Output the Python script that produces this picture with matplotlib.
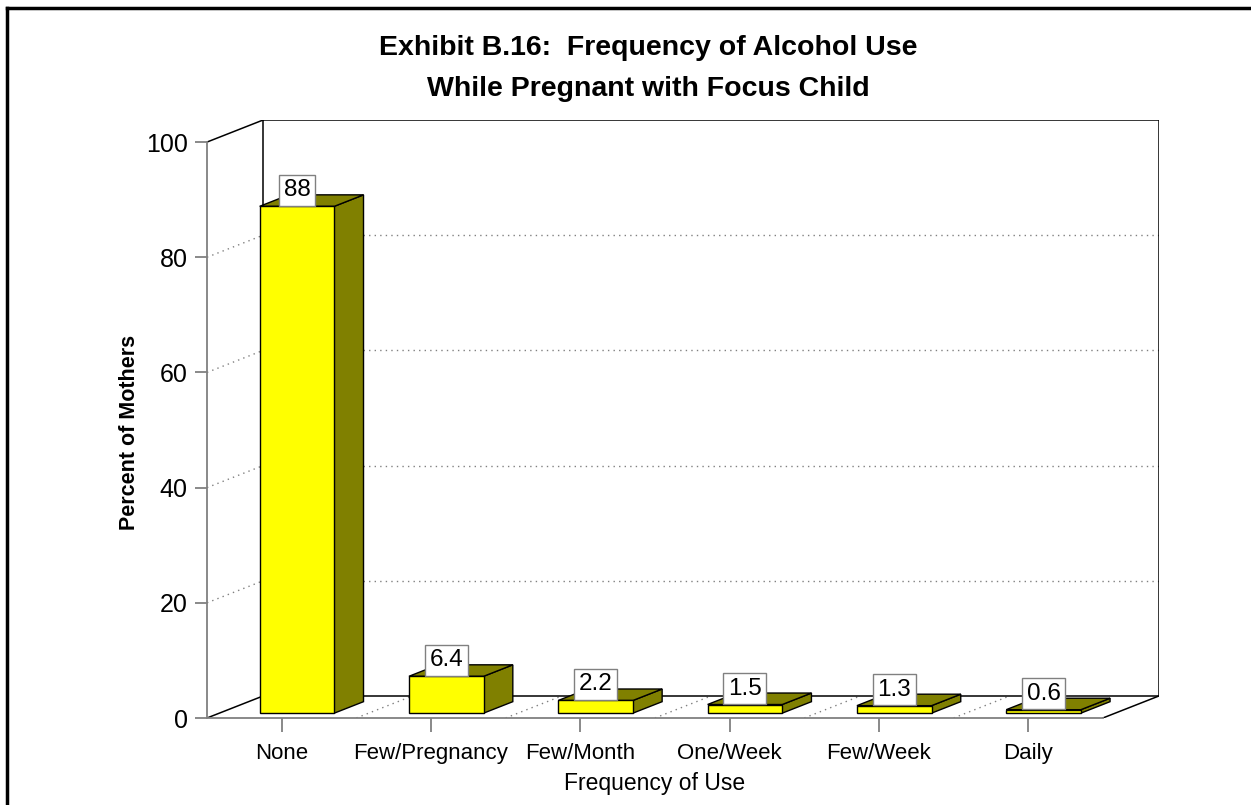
import matplotlib.pyplot as plt
from matplotlib.patches import Polygon
from matplotlib.lines import Line2D

plt.rcParams['font.family'] = ['Liberation Sans', 'DejaVu Sans']

categories = ["None", "Few/Pregnancy", "Few/Month", "One/Week", "Few/Week", "Daily"]
values = [88, 6.4, 2.2, 1.5, 1.3, 0.6]
labels = ["88", "6.4", "2.2", "1.5", "1.3", "0.6"]
yticks = [0, 20, 40, 60, 80, 100]

# pseudo 3d depth (in data units)
DX = 0.376
DY = 3.83
F0, F1 = 0.22, 0.74     # bar front / back depth fraction
BW = 0.5                # bar width
GRAY = "#808080"

fig = plt.figure(figsize=(12.51, 8.05), dpi=100)
ax = fig.add_axes([207 / 1251, 87 / 805, 952 / 1251, 598 / 805])
n = len(categories)
x0, x1 = -0.5, n - 0.5
ax.set_xlim(x0, x1 + DX)
ax.set_ylim(0, 100 + DY)

# back wall + side wall gridlines
for v in yticks[1:-1]:
    ax.plot([x0, x0 + DX], [v, v + DY], color=GRAY, ls=(0, (1, 3)), lw=1, zorder=1)
    ax.plot([x0 + DX, x1 + DX], [v + DY, v + DY], color=GRAY, ls=(0, (1, 3)), lw=1, zorder=1)
# floor gridlines between categories
for i in range(n - 1):
    ax.plot([i + 0.5, i + 0.5 + DX], [0, DY], color=GRAY, ls=(0, (1, 3)), lw=1, zorder=1)

# frame of the box
k = dict(color="black", lw=1.1, zorder=1.5)
ax.plot([x0 + DX, x0 + DX, x1 + DX, x1 + DX, x0 + DX], [DY, 100 + DY, 100 + DY, DY, DY], **k)
ax.plot([x0, x0 + DX], [100, 100 + DY], **k)
ax.plot([x0, x0 + DX], [0, DY], **k)
ax.plot([x1, x1 + DX], [0, DY], **k)

# bars
for i, v in enumerate(values):
    l = i + 0.02 - BW / 2
    r = i + 0.02 + BW / 2
    fx, fy = DX * F0, DY * F0
    bx, by = DX * F1, DY * F1
    front = [(l + fx, fy), (r + fx, fy), (r + fx, v + fy), (l + fx, v + fy)]
    side = [(r + fx, fy), (r + bx, by), (r + bx, v + by), (r + fx, v + fy)]
    top = [(l + fx, v + fy), (r + fx, v + fy), (r + bx, v + by), (l + bx, v + by)]
    ax.add_patch(Polygon(side, closed=True, fc="#808000", ec="black", lw=1, zorder=3))
    ax.add_patch(Polygon(top, closed=True, fc="#808000", ec="black", lw=1, zorder=3))
    ax.add_patch(Polygon(front, closed=True, fc="#FFFF00", ec="black", lw=1, zorder=3))
    ax.annotate(labels[i], xy=(i + 0.02 + fx, v + fy), xytext=(0, 3.6), textcoords="offset points",
                ha="center", va="bottom", fontsize=17.5, zorder=5,
                bbox=dict(boxstyle="square,pad=0.19", fc="white", ec=GRAY, lw=1))

for s in ["top", "right"]:
    ax.spines[s].set_visible(False)
ax.spines["left"].set_bounds(0, 100)
ax.spines["bottom"].set_bounds(x0, x1)
ax.spines["left"].set_color(GRAY)
ax.spines["bottom"].set_color(GRAY)
ax.spines["left"].set_linewidth(1.3)
ax.spines["bottom"].set_linewidth(1.3)

ax.set_yticks(yticks)
ax.set_xticks(range(n))
ax.set_xticklabels(categories)
ax.tick_params(axis="y", length=9, width=1.3, color=GRAY, labelsize=18, pad=5)
ax.tick_params(axis="x", length=10, width=1.3, color=GRAY, labelsize=16, pad=8)
ax.set_facecolor("none")

ax.set_xlabel("Frequency of Use", fontsize=16.5)
ax.set_ylabel("Percent of Mothers", fontsize=15.5, fontweight="bold")
ax.xaxis.label.set_va("center")
ax.yaxis.label.set_va("center")
ax.yaxis.set_label_coords(-0.081, 0.477)
ax.xaxis.set_label_coords(0.47, -0.11)

fig.text(0.518, 0.940, "Exhibit B.16:  Frequency of Alcohol Use", ha="center", va="center",
         fontsize=20.5, fontweight="bold")
fig.text(0.518, 0.890, "While Pregnant with Focus Child", ha="center", va="center",
         fontsize=20.5, fontweight="bold")

# outer border
fig.add_artist(Line2D([7 / 1251, 7 / 1251], [-0.1, 1 - 8 / 805], color="black", lw=2.5, transform=fig.transFigure))
fig.add_artist(Line2D([7 / 1251, 1.1], [1 - 8 / 805, 1 - 8 / 805], color="black", lw=2.5, transform=fig.transFigure))

fig.savefig("out.png", dpi=100)
